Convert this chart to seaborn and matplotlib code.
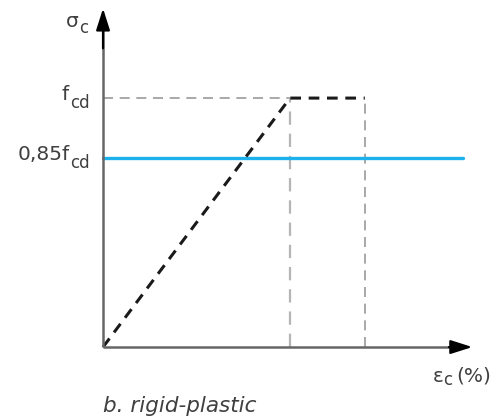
import numpy as np
import matplotlib.pyplot as plt
import seaborn as sns
import pandas as pd

# rigid-plastic stress-strain diagram (schematic units)
eps_peak = 2.0
eps_end = 2.8
f_cd = 1.0
f_design = 0.76          # drawn level of 0,85 f_cd
eps_blue_end = 3.85

curve_x = [0.0, eps_peak, eps_end]
curve_y = [0.0, f_cd, f_cd]

sns.set_theme(style="white")
plt.rcParams['font.family'] = ['DejaVu Sans']

fig = plt.figure(figsize=(5.0, 4.19), dpi=100)
ax = fig.add_axes([0, 0, 1, 1])
ax.set_xlim(-1.102, 4.246)
ax.set_ylim(-0.289, 1.394)
ax.axis('off')

# pixel offsets -> data units
sx, sy = 93.5, 249.0
def px(dx):
    return dx / sx
def py(dy):
    return dy / sy

grey = '#9a9a9a'
# guide lines
ax.plot([0, eps_peak], [f_cd, f_cd], ls=(0, (6, 4)), color=grey, lw=1.2)
ax.plot([eps_peak, eps_peak], [0, f_cd], ls=(0, (6, 4)), color='#b5b5b5', lw=1.6)
ax.plot([eps_end, eps_end], [0, f_cd], ls=(0, (6, 4)), color=grey, lw=1.2)

# design level
sns.lineplot(x=[0, eps_blue_end], y=[f_design, f_design], color='#1cb0ec', lw=2.4, ax=ax)

# stress-strain curve
df = pd.DataFrame({'eps': curve_x, 'sigma': curve_y})
sns.lineplot(data=df, x='eps', y='sigma', sort=False, color='#1a1a1a', lw=2.2,
             linestyle=(0, (3.5, 2.5)), ax=ax)

# axes with arrows
axis_col = '#666666'
ax.annotate('', xy=(0, 1.36), xytext=(0, 1.2),
            arrowprops=dict(arrowstyle='-|>,head_length=1.1,head_width=0.35', color='black',
                            lw=1.6, shrinkA=0, shrinkB=0))
ax.annotate('', xy=(3.95, 0), xytext=(3.7, 0),
            arrowprops=dict(arrowstyle='-|>,head_length=1.1,head_width=0.35', color='black',
                            lw=1.6, shrinkA=0, shrinkB=0))
ax.plot([0, 0], [0, 1.30], color=axis_col, lw=1.8, solid_capstyle='butt')
ax.plot([0, 3.85], [0, 0], color=axis_col, lw=1.8, solid_capstyle='butt')

txt = '#404040'
fs, fsub = 14.5, 12

# f_cd
ax.text(px(-34), f_cd - py(2), 'f', ha='right', va='baseline', fontsize=fs, color=txt)
ax.text(px(-13), f_cd - py(10), 'cd', ha='right', va='baseline', fontsize=fsub, color=txt)
# 0,85 f_cd
ax.text(px(-33), f_design - py(2), '0,85f', ha='right', va='baseline', fontsize=fs, color=txt)
ax.text(px(-13), f_design - py(10), 'cd', ha='right', va='baseline', fontsize=fsub, color=txt)
# sigma_c
ax.text(px(-24), py(320), 'σ', ha='right', va='baseline', fontsize=fs, color=txt)
ax.text(px(-15), py(314), 'c', ha='right', va='baseline', fontsize=fsub, color=txt)
# eps_c (%)
ax.text(px(330), py(-35), 'ε', ha='left', va='baseline', fontsize=fs, color=txt)
ax.text(px(340), py(-38), 'c', ha='left', va='baseline', fontsize=fsub, color=txt)
ax.text(px(353), py(-34), '(%)', ha='left', va='baseline', fontsize=fs, color=txt)

ax.text(0.0, py(-65), 'b. rigid-plastic', ha='left', va='baseline', fontsize=15.5,
        style='italic', color=txt)

plt.savefig('out.png', dpi=100)
